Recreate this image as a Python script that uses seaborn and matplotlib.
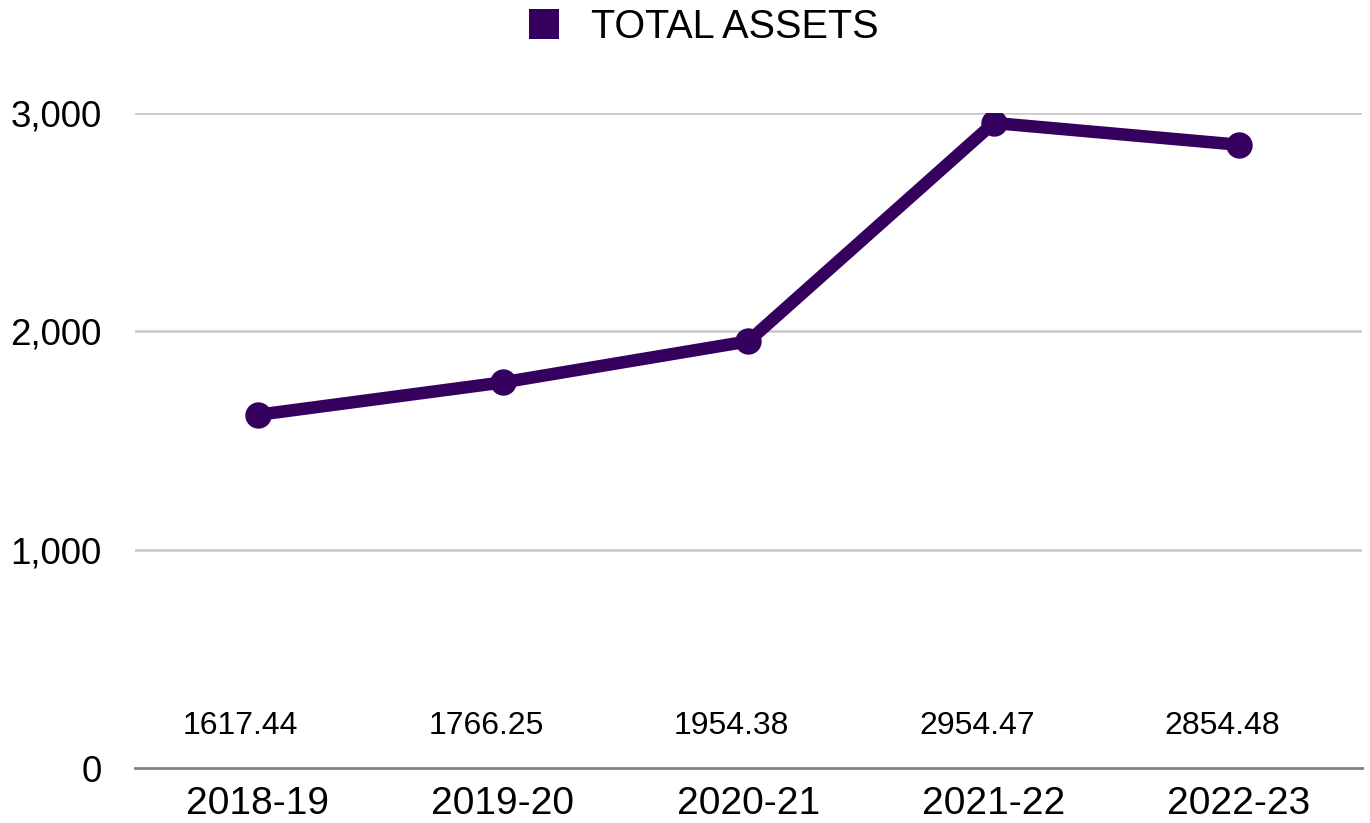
import matplotlib
matplotlib.use("Agg")
import matplotlib.pyplot as plt
import matplotlib.transforms as mtransforms
from matplotlib.lines import Line2D
import seaborn as sns
import pandas as pd

years = ["2018-19", "2019-20", "2020-21", "2021-22", "2022-23"]
total_assets = [1617.44, 1766.25, 1954.38, 2954.47, 2854.48]
yticks = [0, 1000, 2000, 3000]
series_name = "TOTAL ASSETS"

color = "#36005f"

sns.set_theme(style="white")
plt.rcParams["font.family"] = ["Liberation Sans", "DejaVu Sans"]

df = pd.DataFrame({"year": years, "value": total_assets})

fig = plt.figure(figsize=(13.7, 8.23), dpi=100)
ax = fig.add_axes([0.0985, 0.0668, 0.8955, 0.7959])

sns.lineplot(data=df, x="year", y="value", ax=ax, color=color, linewidth=9,
             marker="o", markersize=19, markeredgewidth=0, sort=False)

ax.set_xlim(-0.5, len(years) - 0.5)
ax.set_ylim(0, 3000)
ax.set_yticks(yticks)
ax.set_yticklabels([f"{v:,}" for v in yticks], fontsize=26.5)
ax.tick_params(axis="y", length=0, pad=24, labelcolor="black")
ax.tick_params(axis="x", length=0, pad=13, labelsize=28, labelcolor="black")
ax.set_xlabel("")
ax.set_ylabel("")

for v in yticks[1:]:
    ax.axhline(v, color="#c8c8c8", linewidth=1.8, zorder=0)

for s in ["top", "right", "left"]:
    ax.spines[s].set_visible(False)
ax.spines["bottom"].set_color("#808080")
ax.spines["bottom"].set_linewidth(2)

trans = mtransforms.blended_transform_factory(ax.transData, ax.transAxes)
trans = trans + mtransforms.ScaledTranslation(-17 / 100, -3 / 100, fig.dpi_scale_trans)
for i, v in enumerate(total_assets):
    ax.text(i, 0.069, f"{v:.2f}", transform=trans, ha="center", va="center",
            fontsize=23, color="black")

handle = Line2D([], [], linestyle="none", marker="s", markersize=22,
                color=color, markeredgewidth=0)
leg = fig.legend([handle], [series_name], loc="center", bbox_to_anchor=(0.512, 0.967),
                 frameon=False, fontsize=28.5, handletextpad=0.7, handlelength=1.0,
                 labelcolor="black")

fig.savefig("out.png", dpi=100)
